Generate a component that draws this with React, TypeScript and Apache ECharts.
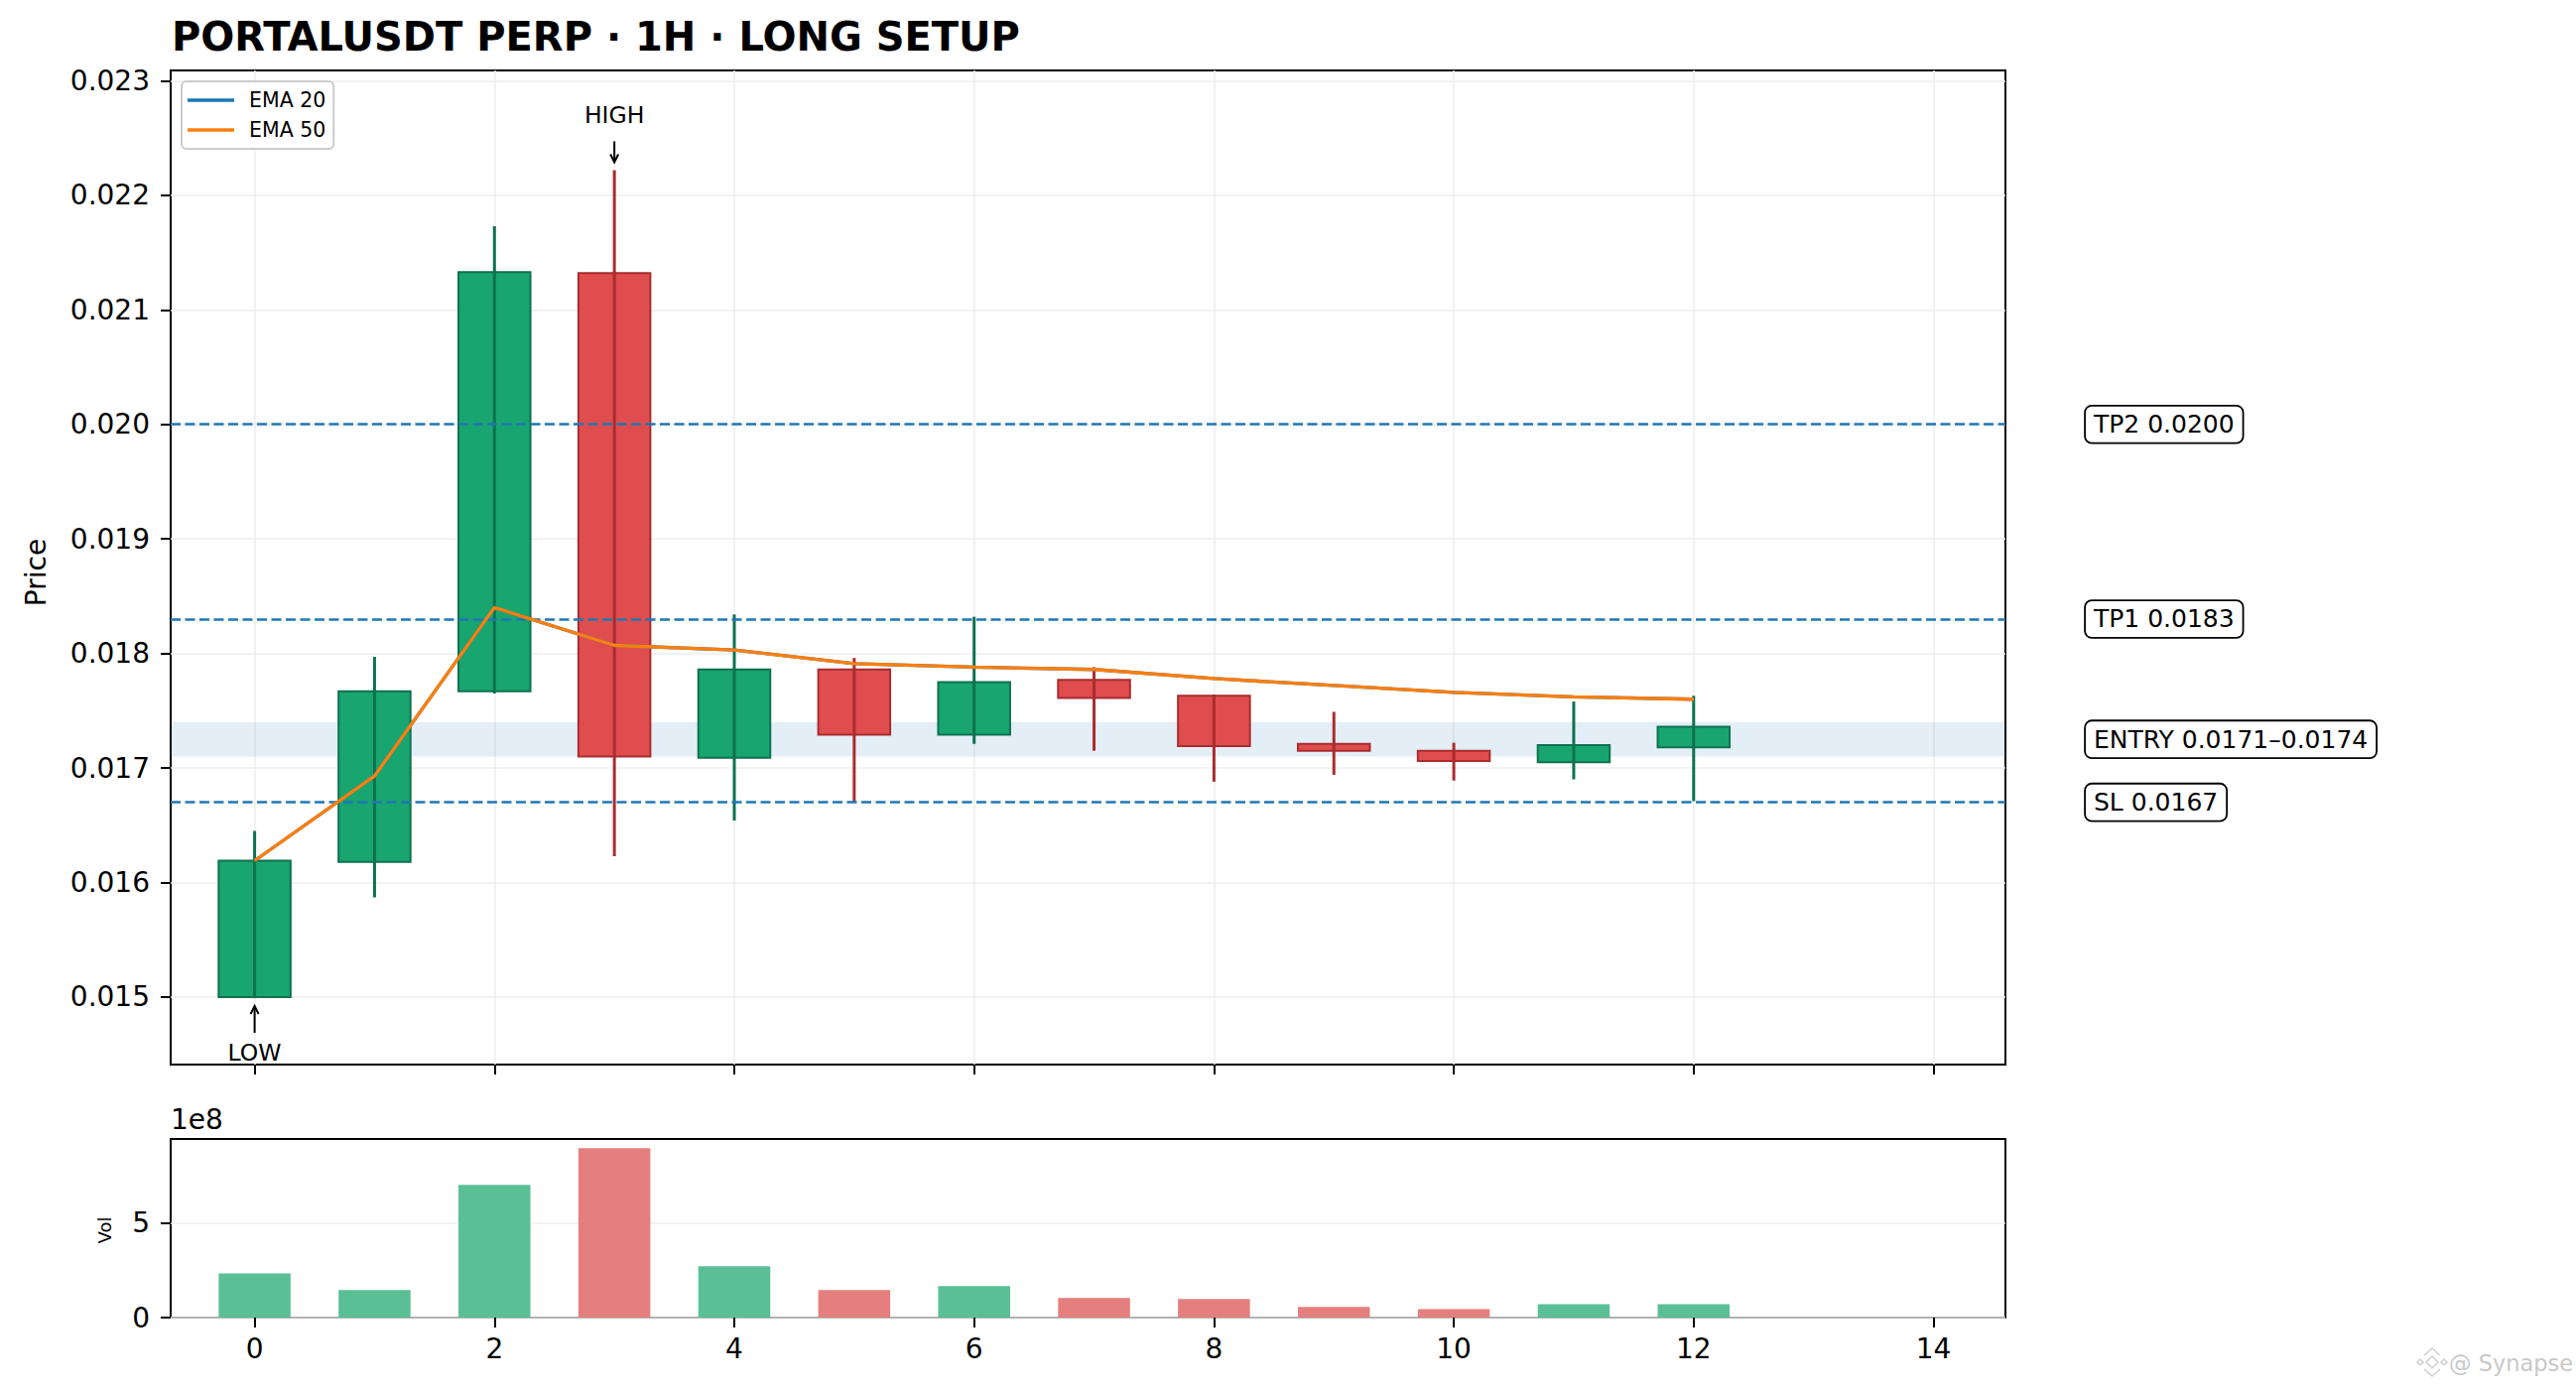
import { useEffect, useRef } from "react";
import * as echarts from "echarts";

// candle index on the x axis
const xs = [0, 1, 2, 3, 4, 5, 6, 7, 8, 9, 10, 11, 12];
const opens = [0.015, 0.01618, 0.01767, 0.02132, 0.01709, 0.01786, 0.01729, 0.01777, 0.01763, 0.01721, 0.01715, 0.01705, 0.01718];
const closes = [0.01619, 0.01767, 0.02133, 0.0171, 0.01786, 0.01729, 0.01775, 0.01761, 0.01719, 0.01715, 0.01706, 0.0172, 0.01736];
const highs = [0.01645, 0.01797, 0.02173, 0.02222, 0.01834, 0.01796, 0.01832, 0.01788, 0.01764, 0.01749, 0.01722, 0.01758, 0.01763];
const lows = [0.01499, 0.01587, 0.01765, 0.01623, 0.01654, 0.0167, 0.01721, 0.01715, 0.01688, 0.01694, 0.01689, 0.0169, 0.01671];
const volumes = [2.33e8, 1.45e8, 6.99e8, 8.92e8, 2.7e8, 1.45e8, 1.66e8, 1.03e8, 0.98e8, 0.56e8, 0.45e8, 0.71e8, 0.71e8];
const ema20 = [0.01619, 0.01693, 0.0184, 0.01807, 0.01803, 0.01791, 0.01788, 0.01786, 0.01778, 0.01772, 0.01766, 0.01762, 0.0176];
const ema50 = [0.01619, 0.01693, 0.0184, 0.01807, 0.01803, 0.01791, 0.01788, 0.01786, 0.01778, 0.01772, 0.01766, 0.01762, 0.0176];

const xTicks = [0, 2, 4, 6, 8, 10, 12, 14];
const priceTicks = [0.015, 0.016, 0.017, 0.018, 0.019, 0.02, 0.021, 0.022, 0.023];
const volTicks = [0, 5e8];

const levelNames = ["TP2", "TP1", "SL"];
const levelValues = [0.02, 0.0183, 0.0167];
const entryZone = [0.0171, 0.0174];

const annIndex = [3, 0];
const annLabels = ["HIGH", "LOW"];

const GREEN = "#19a56f";
const GREEN_EDGE = "#0e7150";
const RED = "#e04d4e";
const RED_EDGE = "#a82d2f";
const VOL_GREEN = "#5bbf96";
const VOL_RED = "#e57f7e";
const BLUE = "#1f77b4";
const ORANGE = "#ff7f0e";
const GRID_LINE = "#eeeeee";
const FONT = "DejaVu Sans";

const GRID_LEFT = 172;
const GRID_W = 1849;
const BODY_W = 0.6;

const tickStyle = { color: "#000", width: 2 };

export default function App() {
  const ref = useRef<HTMLDivElement>(null);

  useEffect(() => {
    document.body.style.margin = "0";
    if (!ref.current) return;
    const chart = echarts.init(ref.current, undefined, { renderer: "svg" });

    const candleData = xs.map((x, i) => [x, opens[i], closes[i], lows[i], highs[i]]);
    const volData = xs.map((x, i) => [x, volumes[i], closes[i] >= opens[i] ? 1 : 0]);
    const annData = annIndex.map((i, k) => [xs[i], k === 0 ? highs[i] : lows[i], k === 0 ? 1 : -1, k]);

    const levelLabel = {
      show: true,
      distance: 81,
      color: "#000",
      fontSize: 25,
      fontFamily: FONT,
      backgroundColor: "#fff",
      borderColor: "#000",
      borderWidth: 1.8,
      borderRadius: 6,
      padding: [6, 8, 5, 8],
    };

    const option: any = {
      animation: false,
      backgroundColor: "#fff",
      textStyle: { fontFamily: FONT },
      title: {
        text: "PORTALUSDT PERP · 1H · LONG SETUP",
        left: 173,
        top: 17,
        padding: 0,
        textStyle: { fontSize: 40, fontWeight: "bold", fontFamily: FONT, color: "#000" },
      },
      legend: {
        data: [
          { name: "EMA 20", icon: "rect" },
          { name: "EMA 50", icon: "rect" },
        ],
        orient: "vertical",
        left: 183,
        top: 82,
        padding: [7, 8, 7, 6],
        itemGap: 6,
        itemWidth: 47,
        itemHeight: 3.5,
        borderColor: "#cccccc",
        borderWidth: 2,
        borderRadius: 5,
        backgroundColor: "rgba(255,255,255,0.85)",
        textStyle: { fontSize: 20.5, fontFamily: FONT, color: "#000", lineHeight: 24, padding: [0, 0, 0, 10] },
      },
      grid: [
        { left: GRID_LEFT, top: 71, width: GRID_W, height: 1002, show: true, borderColor: "#000", borderWidth: 2 },
        { left: GRID_LEFT, top: 1148, width: GRID_W, height: 180, show: true, borderColor: "#000", borderWidth: 2 },
      ],
      xAxis: [
        {
          type: "value",
          gridIndex: 0,
          min: -0.7,
          max: 14.6,
          axisLine: { show: false, onZero: false },
          axisTick: { show: true, length: 10, customValues: xTicks, lineStyle: tickStyle },
          axisLabel: { show: false, customValues: xTicks },
          splitLine: { show: true, lineStyle: { color: GRID_LINE, width: 1.5 } },
        },
        {
          type: "value",
          gridIndex: 1,
          min: -0.7,
          max: 14.6,
          axisLine: { show: false, onZero: false },
          axisTick: { show: true, length: 10, customValues: xTicks, lineStyle: tickStyle },
          axisLabel: { show: true, customValues: xTicks, margin: 17, fontSize: 28, color: "#000", fontFamily: FONT },
          splitLine: { show: false },
        },
      ],
      yAxis: [
        {
          type: "value",
          gridIndex: 0,
          min: 0.01441,
          max: 0.02309,
          axisLine: { show: false, onZero: false },
          axisTick: { show: true, length: 10, customValues: priceTicks, lineStyle: tickStyle },
          axisLabel: {
            customValues: priceTicks,
            margin: 21,
            fontSize: 28,
            color: "#000",
            fontFamily: FONT,
            formatter: (v: number) => v.toFixed(3),
          },
          splitLine: { show: true, lineStyle: { color: GRID_LINE, width: 1.5 } },
        },
        {
          type: "value",
          gridIndex: 1,
          min: 0,
          max: 9.4e8,
          axisLine: { show: false, onZero: false },
          axisTick: { show: true, length: 10, customValues: volTicks, lineStyle: tickStyle },
          axisLabel: {
            customValues: volTicks,
            margin: 21,
            fontSize: 28,
            color: "#000",
            fontFamily: FONT,
            formatter: (v: number) => String(Math.round(v / 1e8)),
          },
          splitLine: { show: true, lineStyle: { color: GRID_LINE, width: 1.5 } },
        },
      ],
      series: [
        {
          name: "candles",
          type: "custom",
          xAxisIndex: 0,
          yAxisIndex: 0,
          z: 1,
          data: candleData,
          encode: { x: 0, y: [1, 2, 3, 4] },
          renderItem: (_p: any, api: any) => {
            const x = api.value(0);
            const o = api.value(1);
            const c = api.value(2);
            const l = api.value(3);
            const h = api.value(4);
            const up = c >= o;
            const pl = api.coord([x, l]);
            const ph = api.coord([x, h]);
            const tl = api.coord([x - BODY_W / 2, Math.max(o, c)]);
            const br = api.coord([x + BODY_W / 2, Math.min(o, c)]);
            return {
              type: "group",
              children: [
                {
                  type: "rect",
                  shape: { x: tl[0], y: tl[1], width: br[0] - tl[0], height: Math.max(br[1] - tl[1], 1) },
                  style: { fill: up ? GREEN : RED, stroke: up ? GREEN_EDGE : RED_EDGE, lineWidth: 2 },
                },
                {
                  type: "line",
                  shape: { x1: pl[0], y1: pl[1], x2: ph[0], y2: ph[1] },
                  style: { stroke: up ? GREEN_EDGE : RED_EDGE, lineWidth: 3 },
                },
              ],
            };
          },
        },
        {
          name: "EMA 20",
          type: "line",
          xAxisIndex: 0,
          yAxisIndex: 0,
          z: 4,
          showSymbol: false,
          color: BLUE,
          lineStyle: { color: BLUE, width: 3.3 },
          data: xs.map((x, i) => [x, ema20[i]]),
          markArea: {
            silent: true,
            itemStyle: { color: "rgba(31,119,180,0.12)" },
            label: { ...levelLabel, position: "right" },
            data: [
              [
                { yAxis: entryZone[0], name: `ENTRY ${entryZone[0].toFixed(4)}–${entryZone[1].toFixed(4)}` },
                { yAxis: entryZone[1] },
              ],
            ],
          },
          markLine: {
            silent: true,
            precision: 6,
            symbol: ["none", "none"],
            lineStyle: { color: BLUE, width: 2.5, type: [10, 4.5] },
            label: { ...levelLabel, position: "end" },
            data: levelValues.map((v, i) => ({
              name: levelNames[i],
              yAxis: v,
              label: { formatter: `${levelNames[i]} ${v.toFixed(4)}` },
            })),
          },
        },
        {
          name: "EMA 50",
          type: "line",
          xAxisIndex: 0,
          yAxisIndex: 0,
          z: 5,
          showSymbol: false,
          color: ORANGE,
          lineStyle: { color: ORANGE, width: 3.3 },
          data: xs.map((x, i) => [x, ema50[i]]),
        },
        {
          name: "annotations",
          type: "custom",
          xAxisIndex: 0,
          yAxisIndex: 0,
          z: 6,
          data: annData,
          encode: { x: 0, y: 1 },
          renderItem: (_p: any, api: any) => {
            const x = api.value(0);
            const v = api.value(1);
            const dir = api.value(2);
            const k = api.value(3);
            const p = api.coord([x, v]);
            const tip = p[1] - dir * 8;
            const tail = tip - dir * (dir > 0 ? 21 : 27);
            const textY = tip - dir * 47;
            return {
              type: "group",
              children: [
                {
                  type: "line",
                  shape: { x1: p[0], y1: tail, x2: p[0], y2: tip },
                  style: { stroke: "#000", lineWidth: 2 },
                },
                {
                  type: "polyline",
                  shape: { points: [[p[0] - 4, tip - dir * 8], [p[0], tip], [p[0] + 4, tip - dir * 8]] },
                  style: { stroke: "#000", lineWidth: 2, fill: "none" },
                },
                {
                  type: "text",
                  x: p[0],
                  y: textY,
                  style: {
                    text: annLabels[k],
                    fontSize: 23.5,
                    fontFamily: FONT,
                    fill: "#000",
                    align: "center",
                    verticalAlign: "middle",
                  },
                },
              ],
            };
          },
        },
        {
          name: "volume",
          type: "custom",
          xAxisIndex: 1,
          yAxisIndex: 1,
          data: volData,
          encode: { x: 0, y: 1 },
          renderItem: (_p: any, api: any) => {
            const x = api.value(0);
            const v = api.value(1);
            const up = api.value(2) === 1;
            const tl = api.coord([x - BODY_W / 2, v]);
            const br = api.coord([x + BODY_W / 2, 0]);
            return {
              type: "rect",
              shape: { x: tl[0], y: tl[1], width: br[0] - tl[0], height: br[1] - tl[1] },
              style: { fill: up ? VOL_GREEN : VOL_RED },
            };
          },
        },
      ],
      graphic: [
        {
          type: "text",
          x: 36,
          y: 577,
          rotation: Math.PI / 2,
          style: { text: "Price", fontSize: 28, fontFamily: FONT, fill: "#000", align: "center", verticalAlign: "middle" },
        },
        {
          type: "text",
          x: 105,
          y: 1240,
          rotation: Math.PI / 2,
          style: { text: "Vol", fontSize: 18, fontFamily: FONT, fill: "#000", align: "center", verticalAlign: "middle" },
        },
        {
          type: "text",
          x: 172,
          y: 1128,
          style: { text: "1e8", fontSize: 28, fontFamily: FONT, fill: "#000", align: "left", verticalAlign: "middle" },
        },
        {
          type: "group",
          children: [
            { type: "polygon", shape: { points: [[2451, 1367], [2457, 1373], [2451, 1379], [2445, 1373]] }, style: { fill: "none", stroke: "#d0d0d0", lineWidth: 1.5 } },
            { type: "polygon", shape: { points: [[2439, 1370], [2442, 1373], [2439, 1376], [2436, 1373]] }, style: { fill: "none", stroke: "#d0d0d0", lineWidth: 1.5 } },
            { type: "polygon", shape: { points: [[2463, 1370], [2466, 1373], [2463, 1376], [2460, 1373]] }, style: { fill: "none", stroke: "#d0d0d0", lineWidth: 1.5 } },
            { type: "polyline", shape: { points: [[2443, 1366], [2451, 1359], [2459, 1366]] }, style: { fill: "none", stroke: "#d0d0d0", lineWidth: 1.5 } },
            { type: "polyline", shape: { points: [[2443, 1380], [2451, 1387], [2459, 1380]] }, style: { fill: "none", stroke: "#d0d0d0", lineWidth: 1.5 } },
          ],
        },
        {
          type: "text",
          x: 2468,
          y: 1374,
          style: { text: "@ Synapse", fontSize: 22.5, fontFamily: FONT, fill: "#c8c8c8", align: "left", verticalAlign: "middle" },
        },
      ],
    };

    chart.setOption(option);
    return () => chart.dispose();
  }, []);

  return <div ref={ref} style={{ width: 2596, height: 1400 }} />;
}
